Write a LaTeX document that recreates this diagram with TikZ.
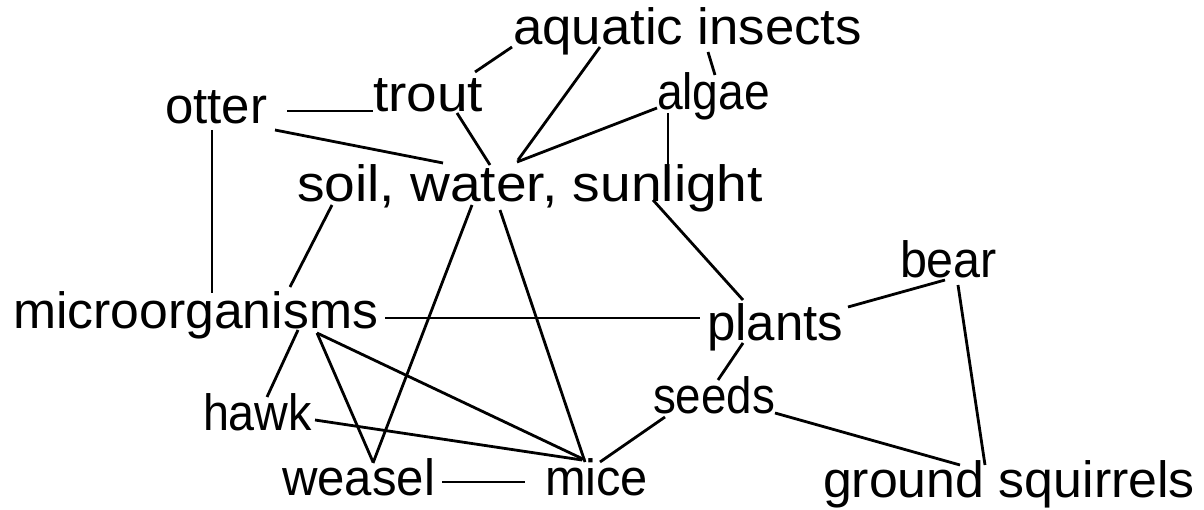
\documentclass[tikz,border=0pt]{standalone}
\usepackage{fontspec}
\setmainfont{Liberation Sans}
\usepackage{graphicx}
\newcommand\fitw[2]{\resizebox{#1pt}{\height}{#2}}
\begin{document}
\begin{tikzpicture}[x=1pt,y=-1pt,
  lbl/.style={anchor=base west,inner sep=0pt,outer sep=0pt,font=\fontsize{51}{60}\selectfont},
  link/.style={draw=black,line width=2.8pt}]
\useasboundingbox[fill=white] (0,0) rectangle (1204,510);
% nodes
\node[lbl] (aq) at (513,45)  {\fitw{349}{aquatic insects}};
\node[lbl] (tr) at (373,112) {\fitw{110}{trout}};
\node[lbl] (ot) at (165,124) {\fitw{102}{otter}};
\node[lbl] (al) at (657,110) {\fitw{113}{algae}};
\node[lbl] (sw) at (297,202) {\fitw{466}{soil, water, sunlight}};
\node[lbl] (mi) at (13,328)  {\fitw{365}{microorganisms}};
\node[lbl] (pl) at (707,340) {\fitw{136}{plants}};
\node[lbl] (be) at (900,278) {\fitw{97}{bear}};
\node[lbl] (se) at (653,413) {\fitw{122}{seeds}};
\node[lbl] (ha) at (203,430) {\fitw{109}{hawk}};
\node[lbl] (we) at (282,495) {\fitw{153}{weasel}};
\node[lbl] (mc) at (545,495) {\fitw{103}{mice}};
\node[lbl] (gs) at (823,497) {\fitw{372}{ground squirrels}};
% connectors
\draw[link] ([shift={(122,-13)}]ot.base west) -- ([shift={(0,-1)}]tr.base west);
\draw[link] ([shift={(110,6)}]ot.base west) -- ([shift={(146,-39)}]sw.base west);
\draw[link] ([shift={(47,6)}]ot.base west) -- ([shift={(199,-35)}]mi.base west);
\draw[link] ([shift={(102,-40)}]tr.base west) -- ([shift={(-1,2)}]aq.base west);
\draw[link] ([shift={(84,1)}]tr.base west) -- ([shift={(193,-37)}]sw.base west);
\draw[link] ([shift={(87,2)}]aq.base west) -- ([shift={(221,-42)}]sw.base west);
\draw[link] ([shift={(0,-2)}]al.base west) -- ([shift={(220,-40)}]sw.base west);
\draw[link] ([shift={(11,3)}]al.base west) -- ([shift={(371,-35)}]sw.base west);
\draw[link] ([shift={(195,7)}]aq.base west) -- ([shift={(58,-35)}]al.base west);
\draw[link] ([shift={(356,-2)}]sw.base west) -- ([shift={(36,-40)}]pl.base west);
\draw[link] ([shift={(35,3)}]sw.base west) -- ([shift={(277,-41)}]mi.base west);
\draw[link] ([shift={(175,3)}]sw.base west) -- ([shift={(91,-32)}]we.base west);
\draw[link] ([shift={(203,8)}]sw.base west) -- ([shift={(40,-33)}]mc.base west);
\draw[link] ([shift={(372,-10)}]mi.base west) -- ([shift={(-7,-22)}]pl.base west);
\draw[link] ([shift={(141,-33)}]pl.base west) -- ([shift={(45,2)}]be.base west);
\draw[link] ([shift={(58,7)}]be.base west) -- ([shift={(162,-32)}]gs.base west);
\draw[link] ([shift={(36,3)}]pl.base west) -- ([shift={(65,-33)}]se.base west);
\draw[link] ([shift={(122,0)}]se.base west) -- ([shift={(137,-32)}]gs.base west);
\draw[link] ([shift={(12,4)}]se.base west) -- ([shift={(55,-33)}]mc.base west);
\draw[link] ([shift={(285,2)}]mi.base west) -- ([shift={(64,-33)}]ha.base west);
\draw[link] ([shift={(304,5)}]mi.base west) -- ([shift={(91,-33)}]we.base west);
\draw[link] ([shift={(304,5)}]mi.base west) -- ([shift={(40,-35)}]mc.base west);
\draw[link] ([shift={(112,-10)}]ha.base west) -- ([shift={(37,-35)}]mc.base west);
\draw[link] ([shift={(160,-13)}]we.base west) -- ([shift={(-20,-13)}]mc.base west);
\end{tikzpicture}
\end{document}
